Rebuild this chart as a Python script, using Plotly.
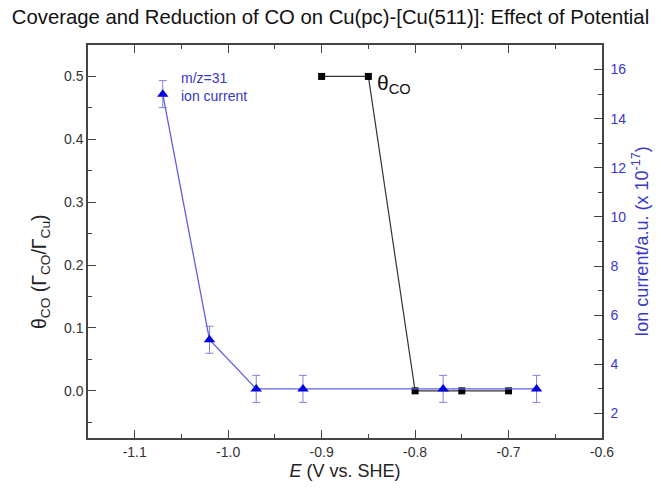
import plotly.graph_objects as go

# ---- data ----
theta_E = [-0.90, -0.85, -0.80, -0.75, -0.70]
theta_co = [0.50, 0.50, 0.00, 0.00, 0.00]

ion_E = [-1.07, -1.02, -0.97, -0.92, -0.77, -0.67]
ion_current = [15.0, 5.0, 3.0, 3.0, 3.0, 3.0]
ion_err = [0.55, 0.55, 0.55, 0.55, 0.55, 0.55]

x_ticks = [-1.1, -1.0, -0.9, -0.8, -0.7, -0.6]

FONT = "Liberation Sans, Arial, sans-serif"
BLUE_TXT = "rgb(55,55,205)"
AX = "#444444"

fig = go.Figure()

fig.add_trace(go.Scatter(
    x=ion_E, y=ion_current, yaxis="y2", mode="lines+markers",
    line=dict(color="rgb(95,95,230)", width=1.3),
    marker=dict(symbol="triangle-up", size=10, color="rgb(0,0,225)"),
    error_y=dict(type="data", array=ion_err, color="rgb(130,130,220)",
                 thickness=1, width=4),
    showlegend=False,
))

fig.add_trace(go.Scatter(
    x=theta_E, y=theta_co, yaxis="y", mode="lines+markers",
    line=dict(color="#333333", width=1.2),
    marker=dict(symbol="square", size=7, color="black"),
    showlegend=False,
))

fig.update_layout(
    width=661, height=489,
    margin=dict(l=88, r=59, t=45, b=51),
    paper_bgcolor="white", plot_bgcolor="white",
    font=dict(family=FONT, size=14, color="#333333"),
    title=dict(text="Coverage and Reduction of CO on Cu(pc)-[Cu(511)]: Effect of Potential",
               x=0.5, xanchor="center", y=1 - 17 / 489, yanchor="middle",
               yref="container",
               font=dict(family=FONT, size=20.3, color="#111111")),
    xaxis=dict(
        range=[-1.15, -0.6], tickvals=x_ticks, ticktext=[f"{v:.1f}" for v in x_ticks],
        ticks="inside", ticklen=8, tickwidth=1.2, tickcolor=AX,
        showline=True, linecolor=AX, linewidth=1.5, mirror="ticks",
        showgrid=False, zeroline=False, automargin=False,
        minor=dict(dtick=0.05, tick0=0, ticks="inside", ticklen=4, tickcolor=AX, showgrid=False),
        title=dict(text="<i>E</i> (V vs. SHE)", font=dict(size=18, color="#222222"), standoff=6),
        tickfont=dict(size=14, color="#333333"),
    ),
    yaxis=dict(
        range=[-0.075, 0.55], tick0=0, dtick=0.1, tickformat=".1f",
        ticks="inside", ticklen=8, tickwidth=1.2, tickcolor=AX,
        showline=True, linecolor=AX, linewidth=1.5,
        showgrid=False, zeroline=False, automargin=False,
        minor=dict(dtick=0.05, tick0=0, ticks="inside", ticklen=4, tickcolor=AX, showgrid=False),
        tickfont=dict(size=14, color="#333333"),
    ),
    yaxis2=dict(
        range=[1, 17], tick0=0, dtick=2, overlaying="y", side="right",
        ticks="inside", ticklen=8, tickwidth=1.2, tickcolor=AX,
        showline=True, linecolor=AX, linewidth=1.5,
        showgrid=False, zeroline=False, ticklabelstandoff=4, automargin=False,
        minor=dict(dtick=1, tick0=0, ticks="inside", ticklen=4, tickcolor=AX, showgrid=False),
        title=dict(text="Ion current/a.u. (x 10<sup>-17</sup>)",
                   font=dict(size=18, color=BLUE_TXT), standoff=10),
        tickfont=dict(size=14, color=BLUE_TXT),
    ),
    annotations=[
        dict(text="θ<sub>CO</sub> (Γ<sub>CO</sub>/Γ<sub>Cu</sub>)",
             x=(40 - 88) / 514, y=(438 - 272) / 393, xref="paper", yref="paper",
             xanchor="center", yanchor="middle", textangle=-90, showarrow=False,
             font=dict(size=19.5, color="#222222")),
        dict(text="m/z=31<br>ion current", x=-1.053, y=14.5, xref="x", yref="y2",
             xanchor="left", yanchor="bottom", align="left", showarrow=False,
             font=dict(size=14, color=BLUE_TXT)),
        dict(text="θ<sub>CO</sub>", x=-0.843, y=0.488, xref="x", yref="y",
             xanchor="left", yanchor="middle", showarrow=False,
             font=dict(size=21, color="#111111")),
    ],
)

fig.write_html("out.html")
